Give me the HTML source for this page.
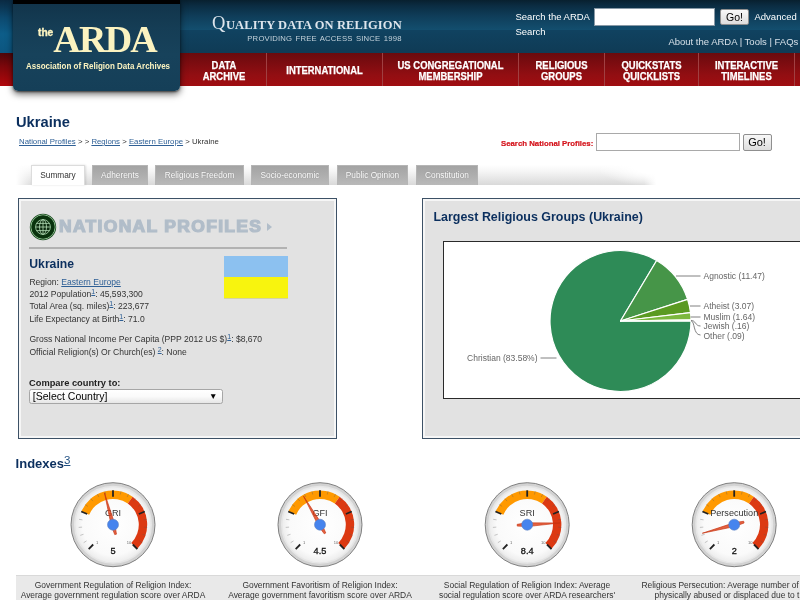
<!DOCTYPE html>
<html lang="en">
<head>
<meta charset="utf-8">
<title>Ukraine - National Profiles - The ARDA</title>
<style>
*{box-sizing:border-box;margin:0;padding:0}
html,body{width:800px;height:600px;overflow:hidden;background:#fff}
body{position:relative;font-family:"Liberation Sans",Arial,sans-serif;color:#333;font-size:9px}
.abs{position:absolute}
a{color:#2a5a8a}
/* header */
#hdr{left:0;top:0;width:800px;height:53px;background:linear-gradient(to bottom,#08202f 0px,#0b2d43 6px,#0f3d59 16px,#134e6e 29.5px,#104260 30.5px,#0f3b55 53px)}
#hdrglowL{left:0;top:0;width:14px;height:53px;background:linear-gradient(to bottom,#0a2a42 0,#0c4a70 18px,#0d5d89 34px,#0c5680 53px)}
#nav{left:0;top:53px;width:800px;height:33.2px;background:linear-gradient(to bottom,#6a0a0d 0,#7c0c10 10px,#920e12 22px,#a00d11 33px)}
#logo{left:12.6px;top:0;width:167.4px;height:91.1px;background:linear-gradient(to bottom,#113349 0,#153d55 30%,#17425b 60%,#153f58 100%);border-radius:0 0 5px 5px;box-shadow:0 3px 7px rgba(0,0,0,.6),0 1px 2px rgba(0,0,0,.5)}
#logobar{left:12.6px;top:0;width:167.4px;height:3.6px;background:#000}
#navL{left:0;top:53px;width:13px;height:33.2px;background:linear-gradient(to bottom,#4c0609 0,#7c070b 40%,#b2070c 100%)}
.navi{top:53px;height:33.2px;color:#fff;font-weight:bold;font-size:10px;line-height:11.3px;text-align:center;border-left:1px solid #a04042;padding-top:7.2px;white-space:nowrap;-webkit-text-stroke:.25px #fff}
.navi.one{padding-top:12.1px}
.navi span{display:block;transform:scaleX(.945)}

.btn{background:linear-gradient(#f8f8f8,#dddddd);border:1px solid #8f8f8f;border-radius:2px;font-size:11px;color:#000;text-align:center;line-height:15px}
#tabstrip{background:linear-gradient(to right,#fff 0,rgba(255,255,255,0) 17px),radial-gradient(ellipse 60px 22px at 100% 0,#fff 0,#fff 40%,rgba(255,255,255,0) 100%),linear-gradient(to left,#fff 0,rgba(255,255,255,0) 12px),linear-gradient(to bottom,#fff 0,#f6f6f6 30%,#d9d9d9 100%)}
.tab{top:165px;height:20px;background:linear-gradient(#a3a3a3,#b9b9b9);border:1px solid #b5b5b5;border-bottom:none;color:#fff;font-size:8.3px;line-height:19px;text-align:center;white-space:nowrap;text-shadow:0 0 1px rgba(90,90,90,.6)}
.tab.on{background:#fff;color:#333;border-color:#dcdcdc;text-shadow:none;box-shadow:1px 0 2px rgba(0,0,0,.12)}
.panel{background:#e2e2e2;border:1px solid #3d5166;box-shadow:inset 0 0 0 2px #f6f6f6}
.ln{left:29.4px;font-size:8.57px;line-height:11px;color:#333;white-space:nowrap}
.ln a{text-decoration:underline;color:#2f6096}
a{text-decoration:underline;color:#2f6096}
.sup{font-size:7px;position:relative;top:-3px}
.cap{top:579.5px;width:200px;text-align:center;font-size:8.45px;line-height:10.5px;color:#333;white-space:nowrap}
</style>
</head>
<body>
<!-- HEADER -->
<div id="hdr" class="abs"></div>
<div id="hdrglowL" class="abs"></div>
<div id="nav" class="abs"></div>
<div id="navL" class="abs"></div>
<div id="logo" class="abs"></div>
<div id="logobar" class="abs"></div>
<div class="abs" id="the" style="left:37.8px;top:26.6px;-webkit-text-stroke:.35px #fbf3c0;font-size:10.4px;font-weight:bold;color:#fbf3c0;line-height:12px;transform:scaleX(.98);transform-origin:0 0">the</div>
<div class="abs" id="arda" style="left:53.3px;top:18.9px;font-family:'Liberation Serif',serif;font-size:38px;font-weight:bold;color:#fbf3c0;line-height:40px;letter-spacing:-1.75px;white-space:nowrap">ARDA</div>
<div class="abs" id="assoc" style="left:25.5px;top:60px;font-size:9.2px;font-weight:bold;color:#fbf3c0;line-height:12px;white-space:nowrap;transform:scaleX(.87);transform-origin:0 0">Association of Religion Data Archives</div>

<div class="abs" id="qual" style="left:212px;top:13px;font-family:'Liberation Serif',serif;font-weight:bold;color:#dde5ec;white-space:nowrap;line-height:20px;font-size:12.5px;letter-spacing:.12px"><span style="font-size:18.5px;font-weight:normal;letter-spacing:.6px">Q</span>UALITY DATA ON RELIGION</div>
<div class="abs" id="prov" style="left:247.3px;top:33.6px;font-size:7.7px;color:#c5d3dc;white-space:nowrap;letter-spacing:.2px;word-spacing:1px;line-height:10px">PROVIDING FREE ACCESS SINCE 1998</div>

<div class="abs" id="sta" style="left:515.5px;top:9.7px;font-size:9.5px;color:#fff;white-space:nowrap;line-height:14px">Search the ARDA</div>
<div class="abs" style="left:515.5px;top:25.1px;font-size:9.5px;color:#fff;white-space:nowrap;line-height:14px">Search</div>
<div class="abs" style="left:594px;top:8px;width:121px;height:17.5px;background:#fff;border:1px solid #8899a6;"></div>
<div class="abs btn" style="left:720px;top:8.5px;width:29px;height:16.5px;font-size:10.5px;line-height:14.5px">Go!</div>
<div class="abs" id="adv" style="left:754.5px;top:9.7px;font-size:9.5px;color:#fff;white-space:nowrap;line-height:14px">Advanced</div>
<div class="abs" id="abt" style="left:668.4px;top:35.3px;font-size:9.5px;color:#d6e0e8;white-space:nowrap;line-height:14px">About the ARDA | Tools | FAQs</div>

<div class="abs navi" style="left:181px;width:86px;border-left:none"><span>DATA<br>ARCHIVE</span></div>
<div class="abs navi one" style="left:266px;width:116px"><span>INTERNATIONAL</span></div>
<div class="abs navi" style="left:382px;width:136px"><span>US CONGREGATIONAL<br>MEMBERSHIP</span></div>
<div class="abs navi" style="left:518px;width:86px"><span>RELIGIOUS<br>GROUPS</span></div>
<div class="abs navi" style="left:604px;width:94px"><span>QUICKSTATS<br>QUICKLISTS</span></div>
<div class="abs navi" style="left:698px;width:96px"><span>INTERACTIVE<br>TIMELINES</span></div>
<div class="abs" style="left:794.3px;top:53px;width:1px;height:33.2px;background:#a04042"></div>


<!-- TITLE -->
<div class="abs" id="ttl" style="left:16px;top:113px;font-size:14.7px;font-weight:bold;color:#0b2f5e;line-height:18px;white-space:nowrap">Ukraine</div>
<div class="abs" id="crumb" style="left:19px;top:136px;font-size:7.8px;color:#333;line-height:11px;white-space:nowrap"><a>National Profiles</a> &gt; &gt; <a>Regions</a> &gt; <a>Eastern Europe</a> &gt; Ukraine</div>
<div class="abs" id="snp" style="left:501px;top:137.5px;font-size:7.8px;font-weight:bold;color:#d4121a;-webkit-text-stroke:.2px #d4121a;line-height:11px;white-space:nowrap">Search National Profiles:</div>
<div class="abs" style="left:596px;top:133px;width:144px;height:18px;background:#fff;border:1px solid #a9a9a9"></div>
<div class="abs btn" style="left:742.5px;top:134.3px;width:29px;height:16.7px">Go!</div>

<!-- TABS -->
<div class="abs" id="tabstrip" style="left:16px;top:165px;width:640px;height:19.5px"></div>
<div class="abs tab on" style="left:31px;width:54px">Summary</div>
<div class="abs tab" style="left:92px;width:56px">Adherents</div>
<div class="abs tab" style="left:155px;width:89px">Religious Freedom</div>
<div class="abs tab" style="left:251px;width:78px">Socio-economic</div>
<div class="abs tab" style="left:337px;width:71px">Public Opinion</div>
<div class="abs tab" style="left:416px;width:62px">Constitution</div>

<!-- LEFT PANEL -->
<div class="abs panel" style="left:18px;top:198px;width:319px;height:241px"></div>
<svg class="abs" style="left:28.7px;top:212.9px" width="28" height="28" viewBox="-14 -14 28 28">
<circle r="13.2" fill="#1a4a1e"/>
<circle r="12.1" fill="none" stroke="#9ccc9e" stroke-width=".9"/>
<circle r="11.4" fill="#09330d"/>
<circle r="7.4" fill="#0a2a0d"/>
<g fill="none" stroke="#b4deb6" stroke-width=".8">
<circle r="7.4"/>
<ellipse rx="3.5" ry="7.4"/>
<line x1="0" y1="-7.4" x2="0" y2="7.4"/>
<line x1="-7.4" y1="0" x2="7.4" y2="0"/>
<line x1="-6.4" y1="-3.6" x2="6.4" y2="-3.6"/>
<line x1="-6.4" y1="3.6" x2="6.4" y2="3.6"/>
</g>
</svg>
<div class="abs" id="np" style="left:59.3px;top:216.3px;font-size:15.6px;font-weight:bold;color:#b1bdc9;line-height:22px;white-space:nowrap;letter-spacing:1.18px;-webkit-text-stroke:1.2px #b1bdc9;transform:scaleX(1.12);transform-origin:0 0">NATIONAL PROFILES</div>
<div class="abs" style="left:267px;top:222.6px;width:0;height:0;border-left:5.2px solid #b1bdc9;border-top:4.9px solid transparent;border-bottom:4.9px solid transparent"></div>
<div class="abs" style="left:29px;top:247px;width:258px;height:2px;background:#b2b2b2"></div>
<div class="abs" id="ukr2" style="left:29.3px;top:256.5px;font-size:12.2px;font-weight:bold;color:#0b2f5e;line-height:14px;white-space:nowrap">Ukraine</div>
<div class="abs" style="left:224px;top:256px;width:64px;height:21px;background:#8cc1f0"></div>
<div class="abs" style="left:224px;top:277px;width:64px;height:21.3px;background:#f8f40e;box-shadow:0 .5px 0 #c8c460"></div>
<div class="abs ln" id="l1" style="top:276.5px">Region: <a>Eastern Europe</a></div>
<div class="abs ln" id="l2" style="top:289px">2012 Population<a class="sup">1</a>: 45,593,300</div>
<div class="abs ln" id="l3" style="top:301.4px">Total Area (sq. miles)<a class="sup">1</a>: 223,677</div>
<div class="abs ln" id="l4" style="top:313.8px">Life Expectancy at Birth<a class="sup">1</a>: 71.0</div>
<div class="abs ln" id="l5" style="top:334.2px">Gross National Income Per Capita (PPP 2012 US $)<a class="sup">1</a>: $8,670</div>
<div class="abs ln" id="l6" style="top:346.5px">Official Religion(s) Or Church(es) <a class="sup">2</a>: None</div>
<div class="abs" id="cmp" style="left:29px;top:378px;font-size:9.3px;font-weight:bold;color:#222;line-height:11px;white-space:nowrap">Compare country to:</div>
<div class="abs" id="sel" style="left:28.8px;top:388.8px;width:194px;height:15px;background:linear-gradient(#fff 0,#fafafa 50%,#e6e6e6 100%);border:1px solid #a6a6a6;border-radius:2.5px;font-size:10.5px;color:#000;line-height:13px;padding-left:3px;white-space:nowrap"><span id="seltxt">[Select Country]</span><span class="abs" style="right:4.5px;top:0;font-size:8.5px;line-height:13.5px">&#9660;</span></div>

<!-- RIGHT PANEL -->
<div class="abs panel" style="left:422px;top:198px;width:400px;height:241px"></div>
<div class="abs" id="lrg" style="left:433.5px;top:209.7px;font-size:12.45px;font-weight:bold;color:#0b2f5e;line-height:15px;white-space:nowrap">Largest Religious Groups (Ukraine)</div>
<div class="abs" style="left:443px;top:241px;width:380px;height:158px;background:#fff;border:1px solid #2a2a2a"></div>
<svg class="abs" style="left:444px;top:242.5px" width="356" height="156" viewBox="444 242 356 156" font-family="Liberation Sans, Arial, sans-serif" font-size="8.5" fill="#666">
<path d="M620.5,320 L691.00,320.00 A70.5,70.5 0 1 1 656.66,259.48 Z" fill="#2e8b57" stroke="#fff" stroke-width="1.2" stroke-linejoin="round"/>
<path d="M620.5,320 L656.66,259.48 A70.5,70.5 0 0 1 687.60,298.38 Z" fill="#469548" stroke="#fff" stroke-width="1.2" stroke-linejoin="round"/>
<path d="M620.5,320 L687.60,298.38 A70.5,70.5 0 0 1 690.50,311.65 Z" fill="#5a9a22" stroke="#fff" stroke-width="1.2" stroke-linejoin="round"/>
<path d="M620.5,320 L690.50,311.65 A70.5,70.5 0 0 1 690.99,318.89 Z" fill="#7cb83e" stroke="#fff" stroke-width="1.2" stroke-linejoin="round"/>
<path d="M620.5,320 L690.99,318.89 A70.5,70.5 0 0 1 691.00,319.60 Z" fill="#9ad05a" stroke="#fff" stroke-width="1.2" stroke-linejoin="round"/>
<path d="M620.5,320 L691.00,319.60 A70.5,70.5 0 0 1 691.00,320.00 Z" fill="#b5e07a" stroke="#fff" stroke-width="1.2" stroke-linejoin="round"/>
<g fill="none" stroke="#808080" stroke-width="1">
<path d="M676,275 L700.5,275"/>
<path d="M690,305 L700.5,305"/>
<path d="M690.5,316 L700.5,316"/>
<path d="M691,319.4 C696,319.4 695,325 700.5,325"/>
<path d="M691,319.8 C695,319.8 693,334 700.5,334"/>
<path d="M540.5,357 L556.5,357"/>
</g>
<text x="703.5" y="278.2">Agnostic (11.47)</text>
<text x="703.5" y="308.0">Atheist (3.07)</text>
<text x="703.5" y="319.3">Muslim (1.64)</text>
<text x="703.5" y="328.2">Jewish (.16)</text>
<text x="703.5" y="337.5">Other (.09)</text>
<text x="537.5" y="360" text-anchor="end">Christian (83.58%)</text>
</svg>

<!-- INDEXES -->
<div class="abs" id="idx" style="left:15.6px;top:455.9px;font-size:13px;font-weight:bold;color:#0b2f5e;line-height:15px;white-space:nowrap"><span id="idxt">Indexes</span><a style="font-weight:normal;font-size:11.5px;position:relative;top:-4px;text-decoration:underline;color:#1f4f82">3</a></div>
<div class="abs" style="left:16px;top:574.6px;width:784px;height:26px;background:#e9e9e9;border-top:1px solid #d9d9d9"></div>
<svg class="abs" style="left:0;top:470px" width="800" height="110" viewBox="0 470 800 110" font-family="Liberation Sans, Arial, sans-serif">
<defs><radialGradient id="gface" cx="50%" cy="50%" r="50%"><stop offset="0" stop-color="#ffffff"/><stop offset=".8" stop-color="#fafafa"/><stop offset="1" stop-color="#ececec"/></radialGradient></defs>
<g transform="translate(113,524.7)">
<circle r="42.0" fill="#d2d2d2" stroke="#808080" stroke-width="1"/>
<circle r="38.25" fill="url(#gface)" stroke="#e6e6e6" stroke-width="1.5"/>
<path d="M-31.60,-13.09 A34.2,34.2 0 0 1 19.62,-28.01 L14.80,-21.13 A25.8,25.8 0 0 0 -23.84,-9.87 Z" fill="#ff9900"/>
<path d="M19.62,-28.01 A34.2,34.2 0 0 1 24.18,24.18 L18.24,18.24 A25.8,25.8 0 0 0 14.80,-21.13 Z" fill="#dc3912"/>
<line x1="-24.32" y1="24.32" x2="-19.80" y2="19.80" stroke="#222" stroke-width="1.8"/>
<line x1="-29.33" y1="17.97" x2="-26.43" y2="16.20" stroke="#555" stroke-opacity=".4" stroke-width="0.8"/>
<line x1="-32.72" y1="10.63" x2="-29.48" y2="9.58" stroke="#555" stroke-opacity=".4" stroke-width="0.8"/>
<line x1="-34.29" y1="2.70" x2="-30.90" y2="2.43" stroke="#555" stroke-opacity=".4" stroke-width="0.8"/>
<line x1="-33.98" y1="-5.38" x2="-30.62" y2="-4.85" stroke="#555" stroke-opacity=".4" stroke-width="0.8"/>
<line x1="-31.78" y1="-13.16" x2="-25.87" y2="-10.72" stroke="#222" stroke-width="1.8"/>
<line x1="-27.83" y1="-20.22" x2="-25.08" y2="-18.22" stroke="#555" stroke-opacity=".4" stroke-width="0.8"/>
<line x1="-22.34" y1="-26.16" x2="-20.13" y2="-23.57" stroke="#555" stroke-opacity=".4" stroke-width="0.8"/>
<line x1="-15.62" y1="-30.65" x2="-14.07" y2="-27.62" stroke="#555" stroke-opacity=".4" stroke-width="0.8"/>
<line x1="-8.03" y1="-33.45" x2="-7.24" y2="-30.14" stroke="#555" stroke-opacity=".4" stroke-width="0.8"/>
<line x1="0.00" y1="-34.40" x2="0.00" y2="-28.00" stroke="#222" stroke-width="1.8"/>
<line x1="8.03" y1="-33.45" x2="7.24" y2="-30.14" stroke="#555" stroke-opacity=".4" stroke-width="0.8"/>
<line x1="15.62" y1="-30.65" x2="14.07" y2="-27.62" stroke="#555" stroke-opacity=".4" stroke-width="0.8"/>
<line x1="22.34" y1="-26.16" x2="20.13" y2="-23.57" stroke="#555" stroke-opacity=".4" stroke-width="0.8"/>
<line x1="27.83" y1="-20.22" x2="25.08" y2="-18.22" stroke="#555" stroke-opacity=".4" stroke-width="0.8"/>
<line x1="31.78" y1="-13.16" x2="25.87" y2="-10.72" stroke="#222" stroke-width="1.8"/>
<line x1="33.98" y1="-5.38" x2="30.62" y2="-4.85" stroke="#555" stroke-opacity=".4" stroke-width="0.8"/>
<line x1="34.29" y1="2.70" x2="30.90" y2="2.43" stroke="#555" stroke-opacity=".4" stroke-width="0.8"/>
<line x1="32.72" y1="10.63" x2="29.48" y2="9.58" stroke="#555" stroke-opacity=".4" stroke-width="0.8"/>
<line x1="29.33" y1="17.97" x2="26.43" y2="16.20" stroke="#555" stroke-opacity=".4" stroke-width="0.8"/>
<line x1="24.32" y1="24.32" x2="19.80" y2="19.80" stroke="#222" stroke-width="1.8"/>
<text x="-16.0" y="19.5" font-size="4" fill="#666" text-anchor="middle">1</text>
<text x="16.0" y="19.5" font-size="4" fill="#666" text-anchor="middle">10</text>
<text x="0" y="-8.6" font-size="9.1" fill="#333" text-anchor="middle">GRI</text>
<text x="0" y="29.6" font-size="9.2" fill="#111" stroke="#111" stroke-width=".3" text-anchor="middle">5</text>
<g transform="rotate(-15.0)"><path d="M0,-33 L1.9,0 L0.9,10 L-0.9,10 L-1.9,0 Z" fill="#dc3912" fill-opacity=".8" stroke="#c63310" stroke-width=".6"/></g>
<circle r="5.5" fill="#4684ee" stroke="#5a7fc0" stroke-width=".6"/>
</g>
<g transform="translate(320,524.7)">
<circle r="42.0" fill="#d2d2d2" stroke="#808080" stroke-width="1"/>
<circle r="38.25" fill="url(#gface)" stroke="#e6e6e6" stroke-width="1.5"/>
<path d="M-31.60,-13.09 A34.2,34.2 0 0 1 19.62,-28.01 L14.80,-21.13 A25.8,25.8 0 0 0 -23.84,-9.87 Z" fill="#ff9900"/>
<path d="M19.62,-28.01 A34.2,34.2 0 0 1 24.18,24.18 L18.24,18.24 A25.8,25.8 0 0 0 14.80,-21.13 Z" fill="#dc3912"/>
<line x1="-24.32" y1="24.32" x2="-19.80" y2="19.80" stroke="#222" stroke-width="1.8"/>
<line x1="-29.33" y1="17.97" x2="-26.43" y2="16.20" stroke="#555" stroke-opacity=".4" stroke-width="0.8"/>
<line x1="-32.72" y1="10.63" x2="-29.48" y2="9.58" stroke="#555" stroke-opacity=".4" stroke-width="0.8"/>
<line x1="-34.29" y1="2.70" x2="-30.90" y2="2.43" stroke="#555" stroke-opacity=".4" stroke-width="0.8"/>
<line x1="-33.98" y1="-5.38" x2="-30.62" y2="-4.85" stroke="#555" stroke-opacity=".4" stroke-width="0.8"/>
<line x1="-31.78" y1="-13.16" x2="-25.87" y2="-10.72" stroke="#222" stroke-width="1.8"/>
<line x1="-27.83" y1="-20.22" x2="-25.08" y2="-18.22" stroke="#555" stroke-opacity=".4" stroke-width="0.8"/>
<line x1="-22.34" y1="-26.16" x2="-20.13" y2="-23.57" stroke="#555" stroke-opacity=".4" stroke-width="0.8"/>
<line x1="-15.62" y1="-30.65" x2="-14.07" y2="-27.62" stroke="#555" stroke-opacity=".4" stroke-width="0.8"/>
<line x1="-8.03" y1="-33.45" x2="-7.24" y2="-30.14" stroke="#555" stroke-opacity=".4" stroke-width="0.8"/>
<line x1="0.00" y1="-34.40" x2="0.00" y2="-28.00" stroke="#222" stroke-width="1.8"/>
<line x1="8.03" y1="-33.45" x2="7.24" y2="-30.14" stroke="#555" stroke-opacity=".4" stroke-width="0.8"/>
<line x1="15.62" y1="-30.65" x2="14.07" y2="-27.62" stroke="#555" stroke-opacity=".4" stroke-width="0.8"/>
<line x1="22.34" y1="-26.16" x2="20.13" y2="-23.57" stroke="#555" stroke-opacity=".4" stroke-width="0.8"/>
<line x1="27.83" y1="-20.22" x2="25.08" y2="-18.22" stroke="#555" stroke-opacity=".4" stroke-width="0.8"/>
<line x1="31.78" y1="-13.16" x2="25.87" y2="-10.72" stroke="#222" stroke-width="1.8"/>
<line x1="33.98" y1="-5.38" x2="30.62" y2="-4.85" stroke="#555" stroke-opacity=".4" stroke-width="0.8"/>
<line x1="34.29" y1="2.70" x2="30.90" y2="2.43" stroke="#555" stroke-opacity=".4" stroke-width="0.8"/>
<line x1="32.72" y1="10.63" x2="29.48" y2="9.58" stroke="#555" stroke-opacity=".4" stroke-width="0.8"/>
<line x1="29.33" y1="17.97" x2="26.43" y2="16.20" stroke="#555" stroke-opacity=".4" stroke-width="0.8"/>
<line x1="24.32" y1="24.32" x2="19.80" y2="19.80" stroke="#222" stroke-width="1.8"/>
<text x="-16.0" y="19.5" font-size="4" fill="#666" text-anchor="middle">1</text>
<text x="16.0" y="19.5" font-size="4" fill="#666" text-anchor="middle">10</text>
<text x="0" y="-8.6" font-size="9.1" fill="#333" text-anchor="middle">GFI</text>
<text x="0" y="29.6" font-size="9.2" fill="#111" stroke="#111" stroke-width=".3" text-anchor="middle">4.5</text>
<g transform="rotate(-30.0)"><path d="M0,-33 L1.9,0 L0.9,10 L-0.9,10 L-1.9,0 Z" fill="#dc3912" fill-opacity=".8" stroke="#c63310" stroke-width=".6"/></g>
<circle r="5.5" fill="#4684ee" stroke="#5a7fc0" stroke-width=".6"/>
</g>
<g transform="translate(527.2,524.7)">
<circle r="42.0" fill="#d2d2d2" stroke="#808080" stroke-width="1"/>
<circle r="38.25" fill="url(#gface)" stroke="#e6e6e6" stroke-width="1.5"/>
<path d="M-31.60,-13.09 A34.2,34.2 0 0 1 19.62,-28.01 L14.80,-21.13 A25.8,25.8 0 0 0 -23.84,-9.87 Z" fill="#ff9900"/>
<path d="M19.62,-28.01 A34.2,34.2 0 0 1 24.18,24.18 L18.24,18.24 A25.8,25.8 0 0 0 14.80,-21.13 Z" fill="#dc3912"/>
<line x1="-24.32" y1="24.32" x2="-19.80" y2="19.80" stroke="#222" stroke-width="1.8"/>
<line x1="-29.33" y1="17.97" x2="-26.43" y2="16.20" stroke="#555" stroke-opacity=".4" stroke-width="0.8"/>
<line x1="-32.72" y1="10.63" x2="-29.48" y2="9.58" stroke="#555" stroke-opacity=".4" stroke-width="0.8"/>
<line x1="-34.29" y1="2.70" x2="-30.90" y2="2.43" stroke="#555" stroke-opacity=".4" stroke-width="0.8"/>
<line x1="-33.98" y1="-5.38" x2="-30.62" y2="-4.85" stroke="#555" stroke-opacity=".4" stroke-width="0.8"/>
<line x1="-31.78" y1="-13.16" x2="-25.87" y2="-10.72" stroke="#222" stroke-width="1.8"/>
<line x1="-27.83" y1="-20.22" x2="-25.08" y2="-18.22" stroke="#555" stroke-opacity=".4" stroke-width="0.8"/>
<line x1="-22.34" y1="-26.16" x2="-20.13" y2="-23.57" stroke="#555" stroke-opacity=".4" stroke-width="0.8"/>
<line x1="-15.62" y1="-30.65" x2="-14.07" y2="-27.62" stroke="#555" stroke-opacity=".4" stroke-width="0.8"/>
<line x1="-8.03" y1="-33.45" x2="-7.24" y2="-30.14" stroke="#555" stroke-opacity=".4" stroke-width="0.8"/>
<line x1="0.00" y1="-34.40" x2="0.00" y2="-28.00" stroke="#222" stroke-width="1.8"/>
<line x1="8.03" y1="-33.45" x2="7.24" y2="-30.14" stroke="#555" stroke-opacity=".4" stroke-width="0.8"/>
<line x1="15.62" y1="-30.65" x2="14.07" y2="-27.62" stroke="#555" stroke-opacity=".4" stroke-width="0.8"/>
<line x1="22.34" y1="-26.16" x2="20.13" y2="-23.57" stroke="#555" stroke-opacity=".4" stroke-width="0.8"/>
<line x1="27.83" y1="-20.22" x2="25.08" y2="-18.22" stroke="#555" stroke-opacity=".4" stroke-width="0.8"/>
<line x1="31.78" y1="-13.16" x2="25.87" y2="-10.72" stroke="#222" stroke-width="1.8"/>
<line x1="33.98" y1="-5.38" x2="30.62" y2="-4.85" stroke="#555" stroke-opacity=".4" stroke-width="0.8"/>
<line x1="34.29" y1="2.70" x2="30.90" y2="2.43" stroke="#555" stroke-opacity=".4" stroke-width="0.8"/>
<line x1="32.72" y1="10.63" x2="29.48" y2="9.58" stroke="#555" stroke-opacity=".4" stroke-width="0.8"/>
<line x1="29.33" y1="17.97" x2="26.43" y2="16.20" stroke="#555" stroke-opacity=".4" stroke-width="0.8"/>
<line x1="24.32" y1="24.32" x2="19.80" y2="19.80" stroke="#222" stroke-width="1.8"/>
<text x="-16.0" y="19.5" font-size="4" fill="#666" text-anchor="middle">1</text>
<text x="16.0" y="19.5" font-size="4" fill="#666" text-anchor="middle">10</text>
<text x="0" y="-8.6" font-size="9.1" fill="#333" text-anchor="middle">SRI</text>
<text x="0" y="29.6" font-size="9.2" fill="#111" stroke="#111" stroke-width=".3" text-anchor="middle">8.4</text>
<g transform="rotate(87.0)"><path d="M0,-33 L1.9,0 L0.9,10 L-0.9,10 L-1.9,0 Z" fill="#dc3912" fill-opacity=".8" stroke="#c63310" stroke-width=".6"/></g>
<circle r="5.5" fill="#4684ee" stroke="#5a7fc0" stroke-width=".6"/>
</g>
<g transform="translate(734.2,524.7)">
<circle r="42.0" fill="#d2d2d2" stroke="#808080" stroke-width="1"/>
<circle r="38.25" fill="url(#gface)" stroke="#e6e6e6" stroke-width="1.5"/>
<path d="M-31.60,-13.09 A34.2,34.2 0 0 1 19.62,-28.01 L14.80,-21.13 A25.8,25.8 0 0 0 -23.84,-9.87 Z" fill="#ff9900"/>
<path d="M19.62,-28.01 A34.2,34.2 0 0 1 24.18,24.18 L18.24,18.24 A25.8,25.8 0 0 0 14.80,-21.13 Z" fill="#dc3912"/>
<line x1="-24.32" y1="24.32" x2="-19.80" y2="19.80" stroke="#222" stroke-width="1.8"/>
<line x1="-29.33" y1="17.97" x2="-26.43" y2="16.20" stroke="#555" stroke-opacity=".4" stroke-width="0.8"/>
<line x1="-32.72" y1="10.63" x2="-29.48" y2="9.58" stroke="#555" stroke-opacity=".4" stroke-width="0.8"/>
<line x1="-34.29" y1="2.70" x2="-30.90" y2="2.43" stroke="#555" stroke-opacity=".4" stroke-width="0.8"/>
<line x1="-33.98" y1="-5.38" x2="-30.62" y2="-4.85" stroke="#555" stroke-opacity=".4" stroke-width="0.8"/>
<line x1="-31.78" y1="-13.16" x2="-25.87" y2="-10.72" stroke="#222" stroke-width="1.8"/>
<line x1="-27.83" y1="-20.22" x2="-25.08" y2="-18.22" stroke="#555" stroke-opacity=".4" stroke-width="0.8"/>
<line x1="-22.34" y1="-26.16" x2="-20.13" y2="-23.57" stroke="#555" stroke-opacity=".4" stroke-width="0.8"/>
<line x1="-15.62" y1="-30.65" x2="-14.07" y2="-27.62" stroke="#555" stroke-opacity=".4" stroke-width="0.8"/>
<line x1="-8.03" y1="-33.45" x2="-7.24" y2="-30.14" stroke="#555" stroke-opacity=".4" stroke-width="0.8"/>
<line x1="0.00" y1="-34.40" x2="0.00" y2="-28.00" stroke="#222" stroke-width="1.8"/>
<line x1="8.03" y1="-33.45" x2="7.24" y2="-30.14" stroke="#555" stroke-opacity=".4" stroke-width="0.8"/>
<line x1="15.62" y1="-30.65" x2="14.07" y2="-27.62" stroke="#555" stroke-opacity=".4" stroke-width="0.8"/>
<line x1="22.34" y1="-26.16" x2="20.13" y2="-23.57" stroke="#555" stroke-opacity=".4" stroke-width="0.8"/>
<line x1="27.83" y1="-20.22" x2="25.08" y2="-18.22" stroke="#555" stroke-opacity=".4" stroke-width="0.8"/>
<line x1="31.78" y1="-13.16" x2="25.87" y2="-10.72" stroke="#222" stroke-width="1.8"/>
<line x1="33.98" y1="-5.38" x2="30.62" y2="-4.85" stroke="#555" stroke-opacity=".4" stroke-width="0.8"/>
<line x1="34.29" y1="2.70" x2="30.90" y2="2.43" stroke="#555" stroke-opacity=".4" stroke-width="0.8"/>
<line x1="32.72" y1="10.63" x2="29.48" y2="9.58" stroke="#555" stroke-opacity=".4" stroke-width="0.8"/>
<line x1="29.33" y1="17.97" x2="26.43" y2="16.20" stroke="#555" stroke-opacity=".4" stroke-width="0.8"/>
<line x1="24.32" y1="24.32" x2="19.80" y2="19.80" stroke="#222" stroke-width="1.8"/>
<text x="-16.0" y="19.5" font-size="4" fill="#666" text-anchor="middle">1</text>
<text x="16.0" y="19.5" font-size="4" fill="#666" text-anchor="middle">10</text>
<text x="0" y="-8.6" font-size="9.1" fill="#333" text-anchor="middle">Persecution</text>
<text x="0" y="29.6" font-size="9.2" fill="#111" stroke="#111" stroke-width=".3" text-anchor="middle">2</text>
<g transform="rotate(-105.0)"><path d="M0,-33 L1.9,0 L0.9,10 L-0.9,10 L-1.9,0 Z" fill="#dc3912" fill-opacity=".8" stroke="#c63310" stroke-width=".6"/></g>
<circle r="5.5" fill="#4684ee" stroke="#5a7fc0" stroke-width=".6"/>
</g>
</svg>

<div class="abs cap" style="left:13px">Government Regulation of Religion Index:<br>Average government regulation score over ARDA</div>
<div class="abs cap" style="left:220px">Government Favoritism of Religion Index:<br>Average government favoritism score over ARDA</div>
<div class="abs cap" style="left:427px">Social Regulation of Religion Index: Average<br>social regulation score over ARDA researchers'</div>
<div class="abs cap" style="left:634px">Religious Persecution: Average number of people<br>physically abused or displaced due to their</div>
</body>
</html>
